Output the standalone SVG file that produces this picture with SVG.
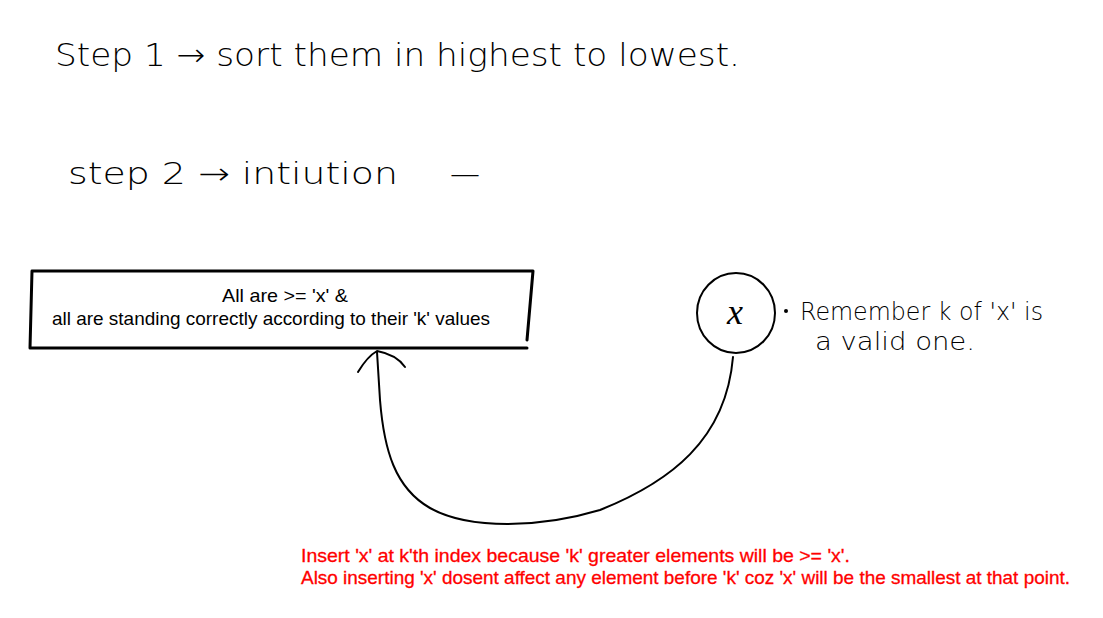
<svg xmlns="http://www.w3.org/2000/svg" width="1103" height="618" viewBox="0 0 1103 618">
<style>
.hw{font-family:"DejaVu Sans","Liberation Sans",sans-serif;font-weight:300;fill:#000}
.box{font-family:"Liberation Sans",Arial,sans-serif;font-size:18.5px;fill:#000;text-anchor:middle}
.red{font-family:"Liberation Sans",Arial,sans-serif;font-size:19px;fill:#ff0000;stroke:#ff0000;stroke-width:0.3}
.stroke{fill:none;stroke:#000;stroke-width:2;stroke-linecap:round;stroke-linejoin:round}
.thick{fill:none;stroke:#000;stroke-width:3;stroke-linecap:round}
</style>
<rect width="1103" height="618" fill="#fff"/>
<g id="step1">
<text class="hw" x="55" y="66" font-size="32" textLength="685" lengthAdjust="spacingAndGlyphs">Step 1 → sort them in highest to lowest.</text>
</g>
<g id="step2">
<text class="hw" x="68" y="184" font-size="30" textLength="330" lengthAdjust="spacingAndGlyphs">step 2 → intiution</text>
<text class="hw" x="450" y="184" font-size="30">—</text>
</g>
<g id="box">
<path class="thick" d="M32,271 L533,271 M32,271 L30,348 M30,348 L527,348 M533,271 L527,340"/>
<text class="box" x="285" y="302" textLength="126" lengthAdjust="spacingAndGlyphs">All are &gt;= 'x' &amp;</text>
<text class="box" x="271" y="325" textLength="438" lengthAdjust="spacingAndGlyphs">all are standing correctly according to their 'k' values</text>
</g>
<g id="x-node">
<ellipse class="stroke" cx="736" cy="313" rx="39" ry="40"/>
<text x="735" y="324" font-family="Liberation Serif,serif" font-style="italic" font-size="36" text-anchor="middle">x</text>
<circle cx="786" cy="311" r="2" fill="#000"/>
</g>
<g id="note">
<text class="hw" x="800" y="320" font-size="24" textLength="243" lengthAdjust="spacingAndGlyphs">Remember k of 'x' is</text>
<text class="hw" x="815" y="350" font-size="24" textLength="160" lengthAdjust="spacingAndGlyphs">a valid one.</text>
</g>
<g id="connectors">
<path class="stroke" d="M733,357 C726,440 670,482 600,510 C540,528 470,530 430,508 C395,488 384,450 380,400 L377,352"/>
<path class="stroke" d="M358,372 C364,362 370,355 377,351 C388,353 398,357 405,367"/>
</g>
<g id="explanation">
<text class="red" x="301" y="562" textLength="549" lengthAdjust="spacingAndGlyphs">Insert 'x' at k'th index because 'k' greater elements will be &gt;= 'x'.</text>
<text class="red" x="301" y="584" textLength="769" lengthAdjust="spacingAndGlyphs">Also inserting 'x' dosent affect any element before 'k' coz 'x' will be the smallest at that point.</text>
</g>
</svg>
